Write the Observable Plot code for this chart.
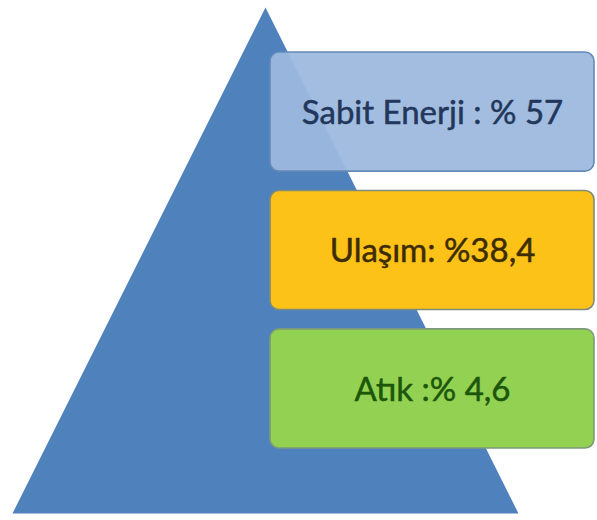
<!DOCTYPE html>
<html><head><meta charset="utf-8">
<script src="https://cdn.jsdelivr.net/npm/d3@7"></script>
<script src="https://cdn.jsdelivr.net/npm/@observablehq/plot@0.6"></script>
<style>
html,body{margin:0;padding:0;background:#fff;overflow:hidden}
</style>
</head><body><div id="chart"></div>
<script>
// ---- data ----
const categories = ["Sabit Enerji", "Ulaşım", "Atık"];
const values = [57, 38.4, 4.6];
const labels = ["Sabit Enerji : % 57", "Ulaşım: %38,4", "Atık :% 4,6"];

// ---- styles ----
const boxFills = ["#9DB9DF", "#FDC218", "#93D152"];
const boxOpacity = [0.94, 1, 1];
const boxStrokes = ["#6489B8", "#7E8A7A", "#7C9A78"];
const textColors = ["#22375A", "#3D2C00", "#1C560B"];
const pyramidColor = "#4F81BD";

// ---- layout (pixel space of the 597x520 canvas) ----
const W = 597, H = 520;
const pyramid = {apexX: 265, apexY: 7, baseY: 513, halfBase: 253};
const boxX = [270, 594];
const rows = d3.scaleBand(categories, [52, 448]).paddingInner(0.14);

const pyramidPts = [
  {x: pyramid.apexX - pyramid.halfBase, y: pyramid.baseY},
  {x: pyramid.apexX, y: pyramid.apexY},
  {x: pyramid.apexX + pyramid.halfBase, y: pyramid.baseY}
];

const boxes = categories.map((c, i) => ({
  category: c, value: values[i], label: labels[i],
  x1: boxX[0], x2: boxX[1],
  y1: rows(c), y2: rows(c) + rows.bandwidth(),
  yc: rows(c) + rows.bandwidth() / 2 + 1,
  fill: boxFills[i], stroke: boxStrokes[i], op: boxOpacity[i], tc: textColors[i]
}));

const plot = Plot.plot({
  width: W, height: H,
  margin: 0,
  x: {domain: [0, W], range: [0, W], axis: null},
  y: {domain: [0, H], range: [0, H], axis: null},
  style: {background: "white", fontFamily: "Lato, 'Open Sans', sans-serif"},
  marks: [
    Plot.line(pyramidPts, {x: "x", y: "y", fill: pyramidColor, stroke: "none", curve: "linear-closed"}),
    Plot.rect(boxes, {
      x1: "x1", x2: "x2", y1: "y1", y2: "y2",
      fill: d => d.fill, fillOpacity: d => d.op,
      stroke: d => d.stroke, strokeWidth: 1.6, rx: 9
    }),
    Plot.text(boxes, {
      x: d => (d.x1 + d.x2) / 2, y: "yc", text: "label",
      fill: d => d.tc, stroke: d => d.tc, strokeWidth: 0.5,
      fontSize: 33, fontWeight: 400
    })
  ]
});
document.getElementById("chart").appendChild(plot);
</script>
</body></html>
